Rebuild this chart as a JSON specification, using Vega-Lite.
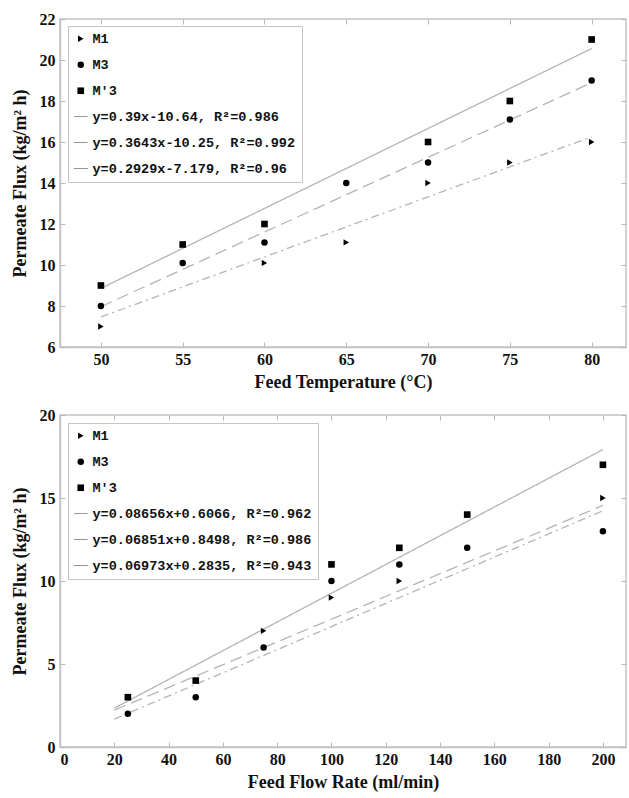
{
  "$schema": "https://vega.github.io/schema/vega-lite/v6.json",
  "padding": {"left": 10, "top": 10, "right": 0, "bottom": 0},
  "background": "white",
  "config": {
    "view": {"stroke": "#c4c4c4", "strokeWidth": 1.5},
    "axis": {
      "grid": false,
      "labelFont": "Liberation Serif", "labelFontWeight": "bold", "labelFontSize": 16, "labelColor": "#111",
      "titleFont": "Liberation Serif", "titleFontWeight": "bold", "titleFontSize": 18, "titleColor": "#111",
      "domainColor": "#c4c4c4", "domainWidth": 1.5, "tickColor": "#b8b8b8", "tickSize": -5, "tickWidth": 1,
      "labelPadding": 9, "titlePadding": 6
    },
    "axisY": {"titlePadding": 10, "labelPadding": 10},
    "legend": {
      "orient": "none", "title": null,
      "labelFont": "Liberation Mono", "labelFontWeight": "bold", "labelFontSize": 13.5, "labelColor": "#111", "labelLimit": 600,
      "strokeColor": "#c4c4c4", "fillColor": "white", "padding": 6,
      "rowPadding": 11, "labelOffset": 5
    },
    "concat": {"spacing": 14}
  },
  "datasets": {
    "temp_pts": [
      {"x": 50, "flux": 7, "series": "M1"},
      {"x": 60, "flux": 10.1, "series": "M1"},
      {"x": 65, "flux": 11.1, "series": "M1"},
      {"x": 70, "flux": 14, "series": "M1"},
      {"x": 75, "flux": 15, "series": "M1"},
      {"x": 80, "flux": 16, "series": "M1"},
      {"x": 50, "flux": 8, "series": "M3"},
      {"x": 55, "flux": 10.1, "series": "M3"},
      {"x": 60, "flux": 11.1, "series": "M3"},
      {"x": 65, "flux": 14, "series": "M3"},
      {"x": 70, "flux": 15, "series": "M3"},
      {"x": 75, "flux": 17.1, "series": "M3"},
      {"x": 80, "flux": 19, "series": "M3"},
      {"x": 50, "flux": 9, "series": "M'3"},
      {"x": 55, "flux": 11, "series": "M'3"},
      {"x": 60, "flux": 12, "series": "M'3"},
      {"x": 70, "flux": 16, "series": "M'3"},
      {"x": 75, "flux": 18, "series": "M'3"},
      {"x": 80, "flux": 21, "series": "M'3"}
    ],
    "temp_fit": [
      {"x": 50, "flux": 8.86, "fit": "y=0.39x-10.64, R²=0.986"},
      {"x": 80, "flux": 20.56, "fit": "y=0.39x-10.64, R²=0.986"},
      {"x": 50, "flux": 7.965, "fit": "y=0.3643x-10.25, R²=0.992"},
      {"x": 80, "flux": 18.894, "fit": "y=0.3643x-10.25, R²=0.992"},
      {"x": 50, "flux": 7.466, "fit": "y=0.2929x-7.179, R²=0.96"},
      {"x": 80, "flux": 16.253, "fit": "y=0.2929x-7.179, R²=0.96"}
    ],
    "flow_pts": [
      {"x": 75, "flux": 7, "series": "M1"},
      {"x": 100, "flux": 9, "series": "M1"},
      {"x": 125, "flux": 10, "series": "M1"},
      {"x": 200, "flux": 15, "series": "M1"},
      {"x": 25, "flux": 2, "series": "M3"},
      {"x": 50, "flux": 3, "series": "M3"},
      {"x": 75, "flux": 6, "series": "M3"},
      {"x": 100, "flux": 10, "series": "M3"},
      {"x": 125, "flux": 11, "series": "M3"},
      {"x": 150, "flux": 12, "series": "M3"},
      {"x": 200, "flux": 13, "series": "M3"},
      {"x": 25, "flux": 3, "series": "M'3"},
      {"x": 50, "flux": 4, "series": "M'3"},
      {"x": 100, "flux": 11, "series": "M'3"},
      {"x": 125, "flux": 12, "series": "M'3"},
      {"x": 150, "flux": 14, "series": "M'3"},
      {"x": 200, "flux": 17, "series": "M'3"}
    ],
    "flow_fit": [
      {"x": 20, "flux": 2.338, "fit": "y=0.08656x+0.6066, R²=0.962"},
      {"x": 200, "flux": 17.918, "fit": "y=0.08656x+0.6066, R²=0.962"},
      {"x": 20, "flux": 2.220, "fit": "y=0.06851x+0.8498, R²=0.986"},
      {"x": 200, "flux": 14.552, "fit": "y=0.06851x+0.8498, R²=0.986"},
      {"x": 20, "flux": 1.678, "fit": "y=0.06973x+0.2835, R²=0.943"},
      {"x": 200, "flux": 14.230, "fit": "y=0.06973x+0.2835, R²=0.943"}
    ]
  },
  "resolve": {
    "scale": {"shape": "independent", "size": "independent", "opacity": "independent", "strokeDash": "independent"},
    "legend": {"shape": "independent", "size": "independent", "opacity": "independent"}
  },
  "vconcat": [
    {
      "width": 566, "height": 328,
      "layer": [
        {
          "data": {"name": "temp_fit"},
          "mark": {"type": "line", "color": "#b4b4b4", "strokeWidth": 1.3},
          "encoding": {
            "x": {"field": "x", "type": "quantitative", "scale": {"domain": [47.5, 82.1], "nice": false, "zero": false},
                  "axis": {"orient": "top", "labels": false, "title": null, "domain": false, "values": [50, 55, 60, 65, 70, 75, 80]}},
            "y": {"field": "flux", "type": "quantitative", "scale": {"domain": [6, 22], "nice": false, "zero": false},
                  "axis": {"orient": "right", "labels": false, "title": null, "domain": false, "values": [6, 8, 10, 12, 14, 16, 18, 20, 22]}},
            "strokeDash": {"field": "fit", "type": "nominal",
                  "scale": {"domain": ["y=0.39x-10.64, R²=0.986", "y=0.3643x-10.25, R²=0.992", "y=0.2929x-7.179, R²=0.96"], "range": [[1, 0], [12, 6], [8, 4, 2, 4]]},
                  "legend": null}
          }
        },
        {
          "data": {"name": "temp_pts"},
          "mark": {"type": "point", "filled": true, "color": "black"},
          "encoding": {
            "x": {"field": "x", "type": "quantitative", "scale": {"domain": [47.5, 82.1], "nice": false, "zero": false},
                  "axis": {"title": "Feed Temperature (°C)", "values": [50, 55, 60, 65, 70, 75, 80]}},
            "y": {"field": "flux", "type": "quantitative", "scale": {"domain": [6, 22], "nice": false, "zero": false},
                  "axis": {"title": "Permeate Flux (kg/m² h)", "values": [6, 8, 10, 12, 14, 16, 18, 20, 22]}},
            "shape": {"field": "series", "type": "nominal",
                  "scale": {"domain": ["M1", "M3", "M'3", "y=0.39x-10.64, R²=0.986", "y=0.3643x-10.25, R²=0.992", "y=0.2929x-7.179, R²=0.96"],
                            "range": ["triangle-right", "circle", "square", "M-2,-0.06L2,-0.06L2,0.06L-2,0.06Z", "M-2,-0.06L2,-0.06L2,0.06L-2,0.06Z", "M-2,-0.06L2,-0.06L2,0.06L-2,0.06Z"]},
                  "legend": {"legendX": 8, "legendY": 7}},
            "size": {"field": "series", "type": "ordinal",
                  "scale": {"domain": ["M1", "M3", "M'3", "y=0.39x-10.64, R²=0.986", "y=0.3643x-10.25, R²=0.992", "y=0.2929x-7.179, R²=0.96"],
                            "range": [40, 50, 32, 400, 400, 400]},
                  "legend": {"legendX": 8, "legendY": 7}},
            "opacity": {"field": "series", "type": "ordinal",
                  "scale": {"domain": ["M1", "M3", "M'3", "y=0.39x-10.64, R²=0.986", "y=0.3643x-10.25, R²=0.992", "y=0.2929x-7.179, R²=0.96"],
                            "range": [1, 1, 1, 0.3, 0.3, 0.3]},
                  "legend": {"legendX": 8, "legendY": 7}}
          }
        }
      ],
      "resolve": {"axis": {"x": "independent", "y": "independent"}}
    },
    {
      "width": 566, "height": 332,
      "layer": [
        {
          "data": {"name": "flow_fit"},
          "mark": {"type": "line", "color": "#b4b4b4", "strokeWidth": 1.3},
          "encoding": {
            "x": {"field": "x", "type": "quantitative", "scale": {"domain": [0, 208.5], "nice": false},
                  "axis": {"orient": "top", "labels": false, "title": null, "domain": false, "values": [0, 20, 40, 60, 80, 100, 120, 140, 160, 180, 200]}},
            "y": {"field": "flux", "type": "quantitative", "scale": {"domain": [0, 20], "nice": false},
                  "axis": {"orient": "right", "labels": false, "title": null, "domain": false, "values": [0, 5, 10, 15, 20]}},
            "strokeDash": {"field": "fit", "type": "nominal",
                  "scale": {"domain": ["y=0.08656x+0.6066, R²=0.962", "y=0.06851x+0.8498, R²=0.986", "y=0.06973x+0.2835, R²=0.943"], "range": [[1, 0], [12, 6], [8, 4, 2, 4]]},
                  "legend": null}
          }
        },
        {
          "data": {"name": "flow_pts"},
          "mark": {"type": "point", "filled": true, "color": "black"},
          "encoding": {
            "x": {"field": "x", "type": "quantitative", "scale": {"domain": [0, 208.5], "nice": false},
                  "axis": {"title": "Feed Flow Rate (ml/min)", "values": [0, 20, 40, 60, 80, 100, 120, 140, 160, 180, 200]}},
            "y": {"field": "flux", "type": "quantitative", "scale": {"domain": [0, 20], "nice": false},
                  "axis": {"title": "Permeate Flux (kg/m² h)", "values": [0, 5, 10, 15, 20]}},
            "shape": {"field": "series", "type": "nominal",
                  "scale": {"domain": ["M1", "M3", "M'3", "y=0.08656x+0.6066, R²=0.962", "y=0.06851x+0.8498, R²=0.986", "y=0.06973x+0.2835, R²=0.943"],
                            "range": ["triangle-right", "circle", "square", "M-2,-0.06L2,-0.06L2,0.06L-2,0.06Z", "M-2,-0.06L2,-0.06L2,0.06L-2,0.06Z", "M-2,-0.06L2,-0.06L2,0.06L-2,0.06Z"]},
                  "legend": {"legendX": 8, "legendY": 8}},
            "size": {"field": "series", "type": "ordinal",
                  "scale": {"domain": ["M1", "M3", "M'3", "y=0.08656x+0.6066, R²=0.962", "y=0.06851x+0.8498, R²=0.986", "y=0.06973x+0.2835, R²=0.943"],
                            "range": [40, 50, 32, 400, 400, 400]},
                  "legend": {"legendX": 8, "legendY": 8}},
            "opacity": {"field": "series", "type": "ordinal",
                  "scale": {"domain": ["M1", "M3", "M'3", "y=0.08656x+0.6066, R²=0.962", "y=0.06851x+0.8498, R²=0.986", "y=0.06973x+0.2835, R²=0.943"],
                            "range": [1, 1, 1, 0.3, 0.3, 0.3]},
                  "legend": {"legendX": 8, "legendY": 8}}
          }
        }
      ],
      "resolve": {"axis": {"x": "independent", "y": "independent"}}
    }
  ]
}
